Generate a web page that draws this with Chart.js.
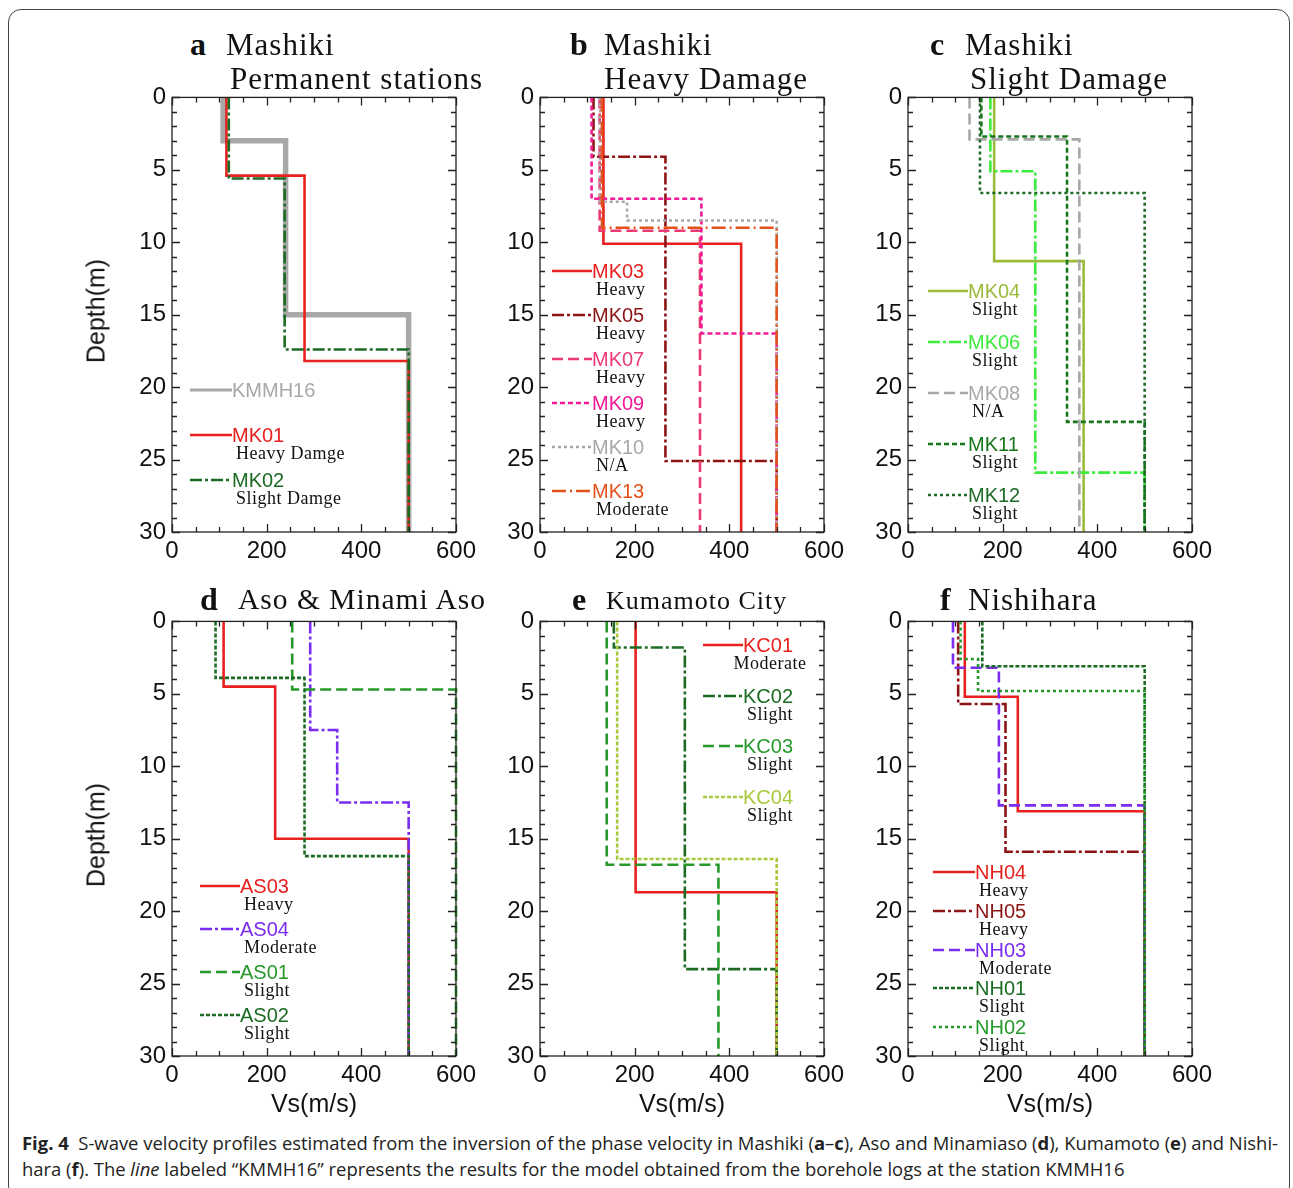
<!DOCTYPE html>
<html>
<head>
<meta charset="utf-8">
<script src="https://cdn.jsdelivr.net/npm/chart.js@4.4.1/dist/chart.umd.min.js"></script>
<style>
  html, body { margin: 0; padding: 0; background: #fff; }
  #page { position: relative; width: 1293px; height: 1188px; overflow: hidden; }
  #frame { position: absolute; left: 8px; top: 9px; width: 1282px; height: 1190px;
           border: 1.5px solid #444; border-radius: 13px; box-sizing: border-box; }
  .pc { position: absolute; }
  .ttl { position: absolute; font-family: "Liberation Serif", serif; color: #111;
         white-space: nowrap; letter-spacing: 1px; line-height: 1; }
  .ttl b { font-weight: bold; letter-spacing: 0; }
  .axt { position: absolute; font-family: "Liberation Sans", Arial, sans-serif; font-size: 25px;
         color: #111; white-space: nowrap; line-height: 1; }
  .lg { position: absolute; white-space: nowrap; line-height: 1; }
  .lg .nm { font-family: "Liberation Sans", Arial, sans-serif; font-size: 20px; }
  .lg .dm { font-family: "Liberation Serif", serif; font-size: 18px; color: #111; letter-spacing: 0.5px; }
  #cap { position: absolute; left: 22px; top: 1130px; font-family: "Open Sans", sans-serif;
         font-size: 18px; color: #222; line-height: 26px; white-space: nowrap; transform-origin: 0 0; }
</style>
</head>
<body>
<div id="page">
  <div id="frame"></div>
  <div id="cap"><span id="capl1"><b>Fig. 4</b>&nbsp; S-wave velocity profiles estimated from the inversion of the phase velocity in Mashiki (<b>a</b>–<b>c</b>), Aso and Minamiaso (<b>d</b>), Kumamoto (<b>e</b>) and Nishi-</span><br>hara (<b>f</b>). The <i>line</i> labeled “KMMH16” represents the results for the model obtained from the borehole logs at the station KMMH16</div>
</div>
<script>
// ---- axis ticks ----
const VS_TICKS = [0, 200, 400, 600];
const DEPTH_TICKS = [0, 5, 10, 15, 20, 25, 30];

// ---- profiles: layer velocities (m/s) and layer boundary depths (m) ----
// a  Mashiki, permanent stations
const KMMH16_VS = [108, 240, 500], KMMH16_Z = [3.0, 15.0];
const MK01_VS = [115, 280, 500],   MK01_Z = [5.4, 18.2];
const MK02_VS = [120, 238, 500],   MK02_Z = [5.6, 17.4];
// b  Mashiki, heavy damage
const MK03_VS = [134, 425],        MK03_Z = [10.1];
const MK05_VS = [113, 265, 500],   MK05_Z = [4.1, 25.1];
const MK07_VS = [126, 338],        MK07_Z = [9.2];
const MK09_VS = [109, 341, 500],   MK09_Z = [7.0, 16.3];
const MK10_VS = [127, 184, 500],   MK10_Z = [7.2, 8.5];
const MK13_VS = [131, 500],        MK13_Z = [9.0];
// c  Mashiki, slight damage
const MK04_VS = [182, 371],        MK04_Z = [11.3];
const MK06_VS = [174, 269, 500],   MK06_Z = [5.1, 25.9];
const MK08_VS = [130, 362],        MK08_Z = [2.9];
const MK11_VS = [155, 336, 500],   MK11_Z = [2.7, 22.4];
const MK12_VS = [152, 500],        MK12_Z = [6.6];
// d  Aso & Minami Aso
const AS03_VS = [109, 218, 500],   AS03_Z = [4.5, 15.0];
const AS04_VS = [292, 349, 500],   AS04_Z = [7.5, 12.5];
const AS01_VS = [254, 600],        AS01_Z = [4.7];
const AS02_VS = [92, 280, 500],    AS02_Z = [3.9, 16.2];
// e  Kumamoto City
const KC01_VS = [202, 500],        KC01_Z = [18.7];
const KC02_VS = [156, 306, 500],   KC02_Z = [1.8, 24.0];
const KC03_VS = [141, 377],        KC03_Z = [16.8];
const KC04_VS = [163, 500],        KC04_Z = [16.4];
// f  Nishihara
const NH04_VS = [120, 232, 500],   NH04_Z = [5.2, 13.1];
const NH05_VS = [106, 206, 500],   NH05_Z = [5.7, 15.9];
const NH03_VS = [95, 192, 500],    NH03_Z = [3.2, 12.7];
const NH01_VS = [157, 500],        NH01_Z = [3.1];
const NH02_VS = [111, 148, 500],   NH02_Z = [2.6, 4.8];

const RED = '#e8211f', DRED = '#8c1414', DGREEN = '#1b6b22', GREEN = '#26992a',
      GRAY = '#a8a8a8', PURPLE = '#7a2cf0';
const SOLID = [], DASHDOT = [12, 3, 3, 3], DASH = [11, 5], SDASH = [5, 3], DOT = [3, 3];

// step profile -> points (x = Vs, y = depth)
function steps(vs, z) {
  const pts = [{ x: vs[0], y: 0 }];
  z.forEach((d, i) => { pts.push({ x: vs[i], y: d }); pts.push({ x: vs[i + 1], y: d }); });
  pts.push({ x: vs[vs.length - 1], y: 30 });
  return pts;
}
function S(name, dmg, vs, z, color, dash, w) {
  return { name, dmg, vs, z, color, dash, w: w || 2.6 };
}

const PW = 284, PH = 435;
const PANELS = [
  { left: 172, top: 97, letter: 'a', t1: 'Mashiki', t2: 'Permanent stations', fs: 31, tx: 190, x1: 226, x2: 230,
    lg: { x: 190, y: 390, gap: 45, line: 42 },
    series: [
      S('KMMH16', null, KMMH16_VS, KMMH16_Z, GRAY, SOLID, 5.5),
      S('MK01', 'Heavy Damge', MK01_VS, MK01_Z, RED, SOLID),
      S('MK02', 'Slight Damge', MK02_VS, MK02_Z, DGREEN, DASHDOT)] },
  { left: 540, top: 97, letter: 'b', t1: 'Mashiki', t2: 'Heavy Damage', fs: 31, tx: 570, x1: 604, x2: 604,
    lg: { x: 552, y: 271, gap: 44, line: 40 },
    series: [
      S('MK03', 'Heavy', MK03_VS, MK03_Z, RED, SOLID),
      S('MK05', 'Heavy', MK05_VS, MK05_Z, DRED, DASHDOT),
      S('MK07', 'Heavy', MK07_VS, MK07_Z, '#ec3a72', DASH),
      S('MK09', 'Heavy', MK09_VS, MK09_Z, '#f21896', SDASH),
      S('MK10', 'N/A', MK10_VS, MK10_Z, GRAY, DOT),
      S('MK13', 'Moderate', MK13_VS, MK13_Z, '#e4521c', [14, 4, 2, 4])] },
  { left: 908, top: 97, letter: 'c', t1: 'Mashiki', t2: 'Slight Damage', fs: 31, tx: 930, x1: 965, x2: 970,
    lg: { x: 928, y: 291, gap: 51, line: 40 },
    series: [
      S('MK04', 'Slight', MK04_VS, MK04_Z, '#9bbb3b', SOLID),
      S('MK06', 'Slight', MK06_VS, MK06_Z, '#3cec3c', DASHDOT),
      S('MK08', 'N/A', MK08_VS, MK08_Z, GRAY, DASH),
      S('MK11', 'Slight', MK11_VS, MK11_Z, '#17761c', SDASH),
      S('MK12', 'Slight', MK12_VS, MK12_Z, '#1d6a27', DOT)] },
  { left: 172, top: 621, letter: 'd', t1: 'Aso & Minami Aso', fs: 29.5, tx: 200, x1: 238,
    lg: { x: 200, y: 886, gap: 43, line: 40 },
    series: [
      S('AS03', 'Heavy', AS03_VS, AS03_Z, RED, SOLID),
      S('AS04', 'Moderate', AS04_VS, AS04_Z, PURPLE, DASHDOT),
      S('AS01', 'Slight', AS01_VS, AS01_Z, GREEN, DASH),
      S('AS02', 'Slight', AS02_VS, AS02_Z, DGREEN, [4, 2])] },
  { left: 540, top: 621, letter: 'e', t1: 'Kumamoto City', fs: 26, tx: 572, x1: 606, center: true,
    lg: { x: 703, y: 645, gap: 50.5, line: 40 },
    series: [
      S('KC01', 'Moderate', KC01_VS, KC01_Z, RED, SOLID),
      S('KC02', 'Slight', KC02_VS, KC02_Z, DGREEN, DASHDOT),
      S('KC03', 'Slight', KC03_VS, KC03_Z, GREEN, DASH),
      S('KC04', 'Slight', KC04_VS, KC04_Z, '#a9c93c', [4, 2])] },
  { left: 908, top: 621, letter: 'f', t1: 'Nishihara', fs: 31, tx: 940, x1: 968,
    lg: { x: 933, y: 872, gap: 38.8, line: 42 },
    series: [
      S('NH04', 'Heavy', NH04_VS, NH04_Z, RED, SOLID),
      S('NH05', 'Heavy', NH05_VS, NH05_Z, DRED, DASHDOT),
      S('NH03', 'Moderate', NH03_VS, NH03_Z, PURPLE, DASH),
      S('NH01', 'Slight', NH01_VS, NH01_Z, DGREEN, [4, 2]),
      S('NH02', 'Slight', NH02_VS, NH02_Z, GREEN, DOT)] }
];

// frame with inward ticks on all four sides
const frameTicks = {
  id: 'frameTicks',
  afterDatasetsDraw(chart) {
    const { ctx, chartArea: a, scales: { x, y } } = chart;
    ctx.save();
    ctx.strokeStyle = '#222';
    ctx.lineWidth = 1.3;
    ctx.strokeRect(a.left, a.top, a.right - a.left, a.bottom - a.top);
    ctx.beginPath();
    for (let v = 0; v <= 600; v += 50) {
      const px = Math.round(x.getPixelForValue(v)) + 0.5;
      const L = v % 200 === 0 ? 8 : 5;
      ctx.moveTo(px, a.bottom); ctx.lineTo(px, a.bottom - L);
      ctx.moveTo(px, a.top); ctx.lineTo(px, a.top + L);
    }
    for (let d = 0; d <= 30; d += 1) {
      const py = Math.round(y.getPixelForValue(d)) + 0.5;
      const L = d % 5 === 0 ? 8 : 5;
      ctx.moveTo(a.left, py); ctx.lineTo(a.left + L, py);
      ctx.moveTo(a.right, py); ctx.lineTo(a.right - L, py);
    }
    ctx.stroke();
    ctx.restore();
  }
};

const PADL = 80, PADT = 20, PADR = 30, PADB = 45;
const page = document.getElementById('page');

function addText(cls, html, style) {
  const el = document.createElement('div');
  el.className = cls;
  el.innerHTML = html;
  Object.assign(el.style, style);
  page.appendChild(el);
  return el;
}

PANELS.forEach((p, pi) => {
  const cv = document.createElement('canvas');
  cv.className = 'pc';
  cv.width = PW + PADL + PADR;
  cv.height = PH + PADT + PADB;
  cv.style.left = (p.left - PADL) + 'px';
  cv.style.top = (p.top - PADT) + 'px';
  page.appendChild(cv);

  new Chart(cv, {
    type: 'line',
    data: {
      datasets: p.series.map(s => ({
        label: s.name,
        data: steps(s.vs, s.z),
        borderColor: s.color,
        borderWidth: s.w,
        borderDash: s.dash,
        pointRadius: 0,
        tension: 0,
        fill: false,
        clip: 6
      })).reverse()
    },
    options: {
      responsive: false,
      animation: false,
      layout: { padding: { left: 0, top: PADT, right: PADR, bottom: 0 } },
      plugins: { legend: { display: false }, tooltip: { enabled: false } },
      scales: {
        x: {
          type: 'linear', min: 0, max: 600,
          afterFit: sc => { sc.height = PADB; },
          afterBuildTicks: sc => { sc.ticks = VS_TICKS.map(v => ({ value: v })); },
          grid: { display: false, drawTicks: false },
          border: { display: false },
          ticks: { padding: 5, color: '#111', maxRotation: 0,
                   font: { family: '"Liberation Sans", Arial, sans-serif', size: 24 } }
        },
        y: {
          type: 'linear', min: 0, max: 30, reverse: true,
          afterFit: sc => { sc.width = PADL; },
          afterBuildTicks: sc => { sc.ticks = DEPTH_TICKS.map(v => ({ value: v })); },
          grid: { display: false, drawTicks: false },
          border: { display: false },
          ticks: { padding: 6, color: '#111',
                   font: { family: '"Liberation Sans", Arial, sans-serif', size: 24 } }
        }
      }
    },
    plugins: [frameTicks]
  });

  // panel title: bold letter, then name (second line for the upper row)
  const letterTop = p.t2 ? p.top - 69 : p.top - 38;
  addText('ttl', '<b>' + p.letter + '</b>',
    { left: p.tx + 'px', top: letterTop + 'px', fontSize: '32px' });
  addText('ttl', p.t1, { left: p.x1 + 'px',
    top: (letterTop + (32 - p.fs) * 0.8) + 'px', fontSize: p.fs + 'px' });
  if (p.t2) {
    addText('ttl', p.t2, { left: p.x2 + 'px', top: (p.top - 34) + 'px', fontSize: p.fs + 'px' });
  }

  // axis titles
  if (pi % 3 === 0) {
    addText('axt', 'Depth(m)', { left: '96px', top: (p.top + PH / 2 - 4) + 'px',
      transform: 'translate(-50%, -50%) rotate(-90deg)' });
  }
  if (pi >= 3) {
    addText('axt', 'Vs(m/s)', { left: (p.left + PW / 2) + 'px', top: '1103px',
      transform: 'translate(-50%, -50%)' });
  }

  // legend
  p.series.forEach((s, i) => {
    const y = p.lg.y + i * p.lg.gap;
    const L = p.lg.line;
    const svg = '<svg width="' + L + '" height="8" style="vertical-align:middle">' +
      '<line x1="0" y1="4" x2="' + L + '" y2="4" stroke="' + s.color + '" stroke-width="' +
      Math.min(s.w, 3.2) + '" stroke-dasharray="' + (s.dash.length ? s.dash.join(',') : 'none') + '"/></svg>';
    const row = addText('lg', svg + '<span class="nm" style="color:' + s.color + '">' + s.name + '</span>',
      { left: p.lg.x + 'px', top: (y - 10) + 'px', display: 'flex', alignItems: 'center' });
    if (s.dmg) {
      const nmEl = row.querySelector('.nm');
      const nx = p.lg.x + L;
      const nw = nmEl.getBoundingClientRect().width;
      const d = addText('lg', '<span class="dm">' + s.dmg + '</span>', { top: (y + 9) + 'px' });
      if (p.center) {
        const dw = d.getBoundingClientRect().width;
        d.style.left = (nx + nw / 2 - dw / 2 + 2) + 'px';
      } else {
        d.style.left = (nx + 4) + 'px';
      }
    }
  });
});

// caption line width fitted to the frame
const cap = document.getElementById('cap');
const w1 = document.getElementById('capl1').getBoundingClientRect().width;
cap.style.transform = 'scaleX(' + (1256 / w1) + ')';
</script>
</body>
</html>
